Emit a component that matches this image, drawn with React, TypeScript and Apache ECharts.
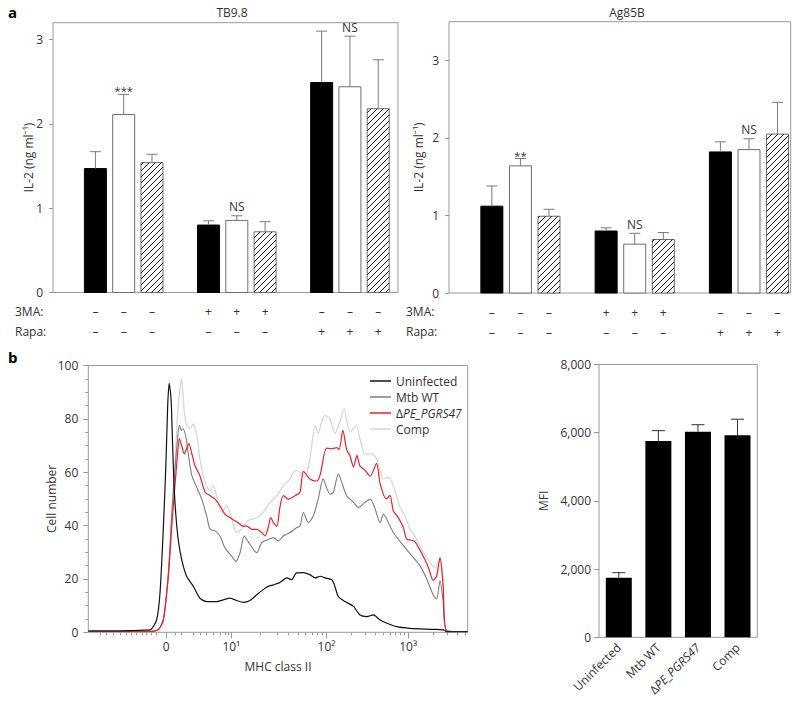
import { useEffect, useRef } from 'react';
import * as echarts from 'echarts';

const FONT = '"Open Sans", "Noto Sans", sans-serif';
const TEXT = '#333';
const AXIS = '#999';

// ---------- Panel a ----------
const slots = [2, 3, 4, 6, 7, 8, 10, 11, 12];
const treat3MA = ['–', '–', '–', '+', '+', '+', '–', '–', '–'];
const treatRapa = ['–', '–', '–', '–', '–', '–', '+', '+', '+'];
const tbMean = [1.47, 2.11, 1.54, 0.8, 0.855, 0.72, 2.49, 2.44, 2.18];
const tbSem = [0.2, 0.24, 0.1, 0.05, 0.055, 0.12, 0.61, 0.6, 0.58];
const tbSig = ['', '***', '', '', 'NS', '', '', 'NS', ''];
const agMean = [1.12, 1.64, 0.99, 0.8, 0.63, 0.69, 1.82, 1.85, 2.05];
const agSem = [0.26, 0.095, 0.09, 0.04, 0.14, 0.09, 0.13, 0.14, 0.41];
const agSig = ['', '**', '', '', 'NS', '', '', 'NS', ''];

// ---------- Panel b: histogram (x in display channel units 0-1000) ----------
const histMajorTicks = [205, 377, 628, 843];
const histMajorLabels = ['0', '10¹', '10²', '10³'];
const histMinorTicks = [31, 48, 66, 83, 101, 114, 127, 141, 154, 167, 180, 228, 246, 277, 295, 312, 330, 347, 360, 369,
  453, 497, 528, 553, 573, 589, 604, 616, 693, 731, 757, 778, 795, 810, 822, 833, 908, 946, 972, 993];

const uninfected: [number, number][] = [[0, 0.5], [57, 0.5], [110, 0.6], [149, 0.8], [163, 0.9], [180, 4.6], [189, 14.7], [198, 39.8], [205, 65], [209, 83.9], [213, 93.3], [218, 87.7], [222, 71.3], [226, 54.9], [231, 43.6], [237, 34.8], [246, 27.3], [259, 21], [277, 17.2], [294, 12.8], [312, 11.5], [338, 11.5], [373, 12.8], [391, 11.9], [409, 11.2], [426, 11.9], [444, 14.1], [461, 16], [474, 17.2], [488, 17.8], [505, 18.7], [523, 20.4], [536, 19.7], [549, 22.3], [567, 22.4], [584, 21.6], [598, 20.4], [611, 21], [624, 20.4], [642, 19.7], [650, 17.2], [659, 13.4], [677, 11.5], [699, 9.7], [716, 6.5], [734, 5.9], [751, 6.5], [769, 4.6], [787, 3.4], [813, 2.1], [848, 1.5], [909, 1.1], [936, 0.9], [945, 0.2], [1000, 0.2]];

const mtbWT: [number, number][] = [[0, 0.3], [163, 0.4], [185, 1], [198, 5], [211, 22], [220, 44], [229, 62], [235, 72], [240, 77.6], [246, 75.7], [250, 76.3], [258, 72.6], [264, 66.3], [273, 58.7], [286, 54.3], [299, 49.9], [312, 43.6], [321, 38.6], [334, 38], [347, 36.1], [360, 31.7], [378, 28.5], [389, 26.6], [400, 29.8], [411, 36.1], [426, 32.9], [444, 29.8], [457, 33.6], [474, 34.8], [488, 35.5], [501, 34.2], [514, 36.1], [532, 37.4], [549, 39.2], [558, 39.8], [567, 44.9], [580, 41.1], [593, 43.6], [606, 49.9], [619, 57.5], [628, 54.3], [637, 51.8], [646, 52.5], [659, 59.4], [668, 56.2], [681, 51.2], [699, 48.7], [712, 46.8], [729, 48.7], [743, 49.9], [756, 46.2], [769, 41.1], [778, 44.3], [791, 41.1], [804, 37.4], [822, 34], [839, 31], [857, 28], [874, 25], [892, 20], [909, 14], [918, 12.5], [927, 19.3], [935, 12], [945, 0.5], [1000, 0.3]];

const dPE: [number, number][] = [[0, 0.3], [163, 0.3], [185, 1.1], [198, 4.6], [211, 21], [220, 39.8], [229, 56.2], [235, 66.3], [240, 72.6], [246, 70], [253, 66.9], [259, 68.8], [265, 70.7], [273, 66.9], [281, 62.5], [294, 58.7], [308, 52.5], [321, 51.2], [334, 49.9], [347, 47.4], [360, 44.3], [373, 43], [387, 41.7], [395, 41.1], [407, 39.8], [418, 39.8], [431, 38.6], [444, 38.6], [457, 37.4], [466, 36.1], [474, 39.2], [481, 43], [488, 41.1], [497, 39.8], [505, 46.8], [514, 51.2], [527, 49.9], [545, 51.2], [558, 52.5], [567, 60.3], [584, 57.5], [602, 56.7], [611, 59], [628, 69], [642, 68.8], [655, 69.2], [661, 68.5], [671, 75.7], [681, 68.5], [690, 66], [699, 62], [708, 66.3], [716, 62.3], [729, 60.8], [743, 58.5], [760, 63.3], [769, 55.8], [785, 50], [795, 51.3], [804, 45.5], [817, 43], [830, 39.5], [839, 35], [851, 34.5], [861, 34], [879, 29.5], [896, 24.5], [909, 19.5], [918, 21], [927, 28], [935, 18], [945, 0.5], [1000, 0.3]];

const comp: [number, number][] = [[0, 0.3], [163, 0.3], [185, 1], [198, 5], [211, 23], [220, 45], [229, 65], [236, 83], [246, 95], [253, 82.6], [259, 77.6], [268, 76.3], [276, 78], [286, 73.8], [294, 65], [308, 56.2], [321, 53], [330, 54.9], [338, 51.2], [352, 44.9], [365, 47.4], [378, 42.4], [391, 37.4], [404, 38.6], [418, 41.7], [431, 42.4], [444, 43], [461, 44.9], [479, 48.7], [497, 51.2], [514, 54.9], [532, 57.5], [545, 60.6], [558, 60], [571, 58.1], [584, 65], [598, 77.6], [606, 74.5], [615, 78.9], [624, 81.3], [637, 80], [650, 74.5], [663, 78.9], [674, 83.6], [690, 75.1], [706, 77.6], [716, 72.6], [729, 66.9], [747, 66.9], [760, 65], [778, 57.5], [791, 58.1], [804, 54.9], [822, 46.8], [835, 43.6], [848, 38.6], [866, 34.8], [883, 29.8], [901, 26], [914, 24.2], [927, 27.9], [935, 20], [945, 0.5], [1000, 0.3]];

// ---------- Panel b: MFI ----------
const mfiCats = ['Uninfected', 'Mtb WT', 'ΔPE_PGRS47', 'Comp'];
const mfiMean = [1750, 5760, 6030, 5925];
const mfiSem = [145, 300, 205, 470];

const richName = {
  n: { fontSize: 12, color: TEXT, fontFamily: FONT },
  i: { fontSize: 12, color: TEXT, fontFamily: FONT, fontStyle: 'italic' as const },
};
const fmtName = (name: string) => (name.startsWith('Δ') ? `{n|Δ}{i|${name.slice(1)}}` : `{n|${name}}`);

function barRender(params: any, api: any) {
  const x = api.value(0);
  const y = api.value(1);
  const kind = api.value(3);
  const top = api.coord([x, y]);
  const base = api.coord([x, 0]);
  const w = 22;
  const x0 = top[0] - w / 2;
  const y0 = top[1];
  const h = base[1] - top[1];
  const children: any[] = [
    {
      type: 'rect',
      shape: { x: x0, y: y0, width: w, height: h },
      style: { fill: kind === 0 ? '#000' : '#fff', stroke: kind === 0 ? '#000' : '#6e6e6e', lineWidth: 1 },
    },
  ];
  if (kind === 2) {
    const s = 6;
    for (let c = Math.ceil((x0 + y0) / s) * s; c < x0 + w + y0 + h; c += s) {
      const lo = Math.max(x0, c - y0 - h);
      const hi = Math.min(x0 + w, c - y0);
      if (hi - lo > 0.5) {
        children.push({
          type: 'line',
          shape: { x1: lo, y1: c - lo, x2: hi, y2: c - hi },
          style: { stroke: '#000', lineWidth: 0.9 },
        });
      }
    }
  }
  return { type: 'group', children };
}

function errRender(capW: number, color: string, labels?: string[]) {
  return (params: any, api: any) => {
    const x = api.value(0);
    const m = api.value(1);
    const s = api.value(2);
    const p0 = api.coord([x, m]);
    const p1 = api.coord([x, m + s]);
    const children: any[] = [
      { type: 'line', shape: { x1: p0[0], y1: p0[1], x2: p1[0], y2: p1[1] }, style: { stroke: color, lineWidth: 1 } },
      { type: 'line', shape: { x1: p1[0] - capW / 2, y1: p1[1], x2: p1[0] + capW / 2, y2: p1[1] }, style: { stroke: color, lineWidth: 1 } },
    ];
    const lab = labels ? labels[params.dataIndex] : '';
    if (lab) {
      const star = lab.startsWith('*');
      children.push({
        type: 'text',
        x: p1[0],
        y: p1[1] + (star ? 2 : -3),
        style: {
          text: lab,
          align: 'center',
          verticalAlign: 'bottom',
          fontSize: star ? 11 : 12,
          fontFamily: FONT,
          fill: TEXT,
        },
      });
    }
    return { type: 'group', children };
  };
}

const slotLabel = (v: number) => {
  const i = slots.indexOf(Math.round(v));
  return i < 0 ? '' : `${treat3MA[i]}\n${treatRapa[i]}`;
};

function slotAxis(gridIndex: number, max: number) {
  return {
    type: 'value',
    gridIndex,
    position: 'bottom',
    min: 0.5,
    max,
    axisLine: { show: false, onZero: false },
    axisTick: { show: false },
    splitLine: { show: false },
    axisLabel: {
      customValues: slots,
      formatter: slotLabel,
      fontSize: 12,
      lineHeight: 20,
      color: TEXT,
      fontFamily: FONT,
      margin: 9,
    },
  };
}

export default function App() {
  const ref = useRef<HTMLDivElement>(null);
  useEffect(() => {
    if (!ref.current) return;
    const chart = echarts.init(ref.current, undefined, { renderer: 'svg' });

    const tbData = slots.map((s, i) => [s, tbMean[i], tbSem[i], i % 3]);
    const agData = slots.map((s, i) => [s, agMean[i], agSem[i], i % 3]);
    const mfiData = mfiCats.map((_, i) => [i, mfiMean[i], mfiSem[i]]);

    const yBase = {
      type: 'value',
      position: 'left',
      axisLine: { show: false, onZero: false },
      splitLine: { show: false },
      nameLocation: 'middle',
      nameMoveOverlap: false,
      nameTextStyle: { fontSize: 12, color: TEXT, fontFamily: FONT },
    };

    const option: any = {
      animation: false,
      textStyle: { fontFamily: FONT },
      grid: [
        { left: 53, top: 22.7, width: 345, height: 269.8, show: true, borderColor: AXIS, borderWidth: 1, outerBoundsMode: 'none' },
        { left: 449, top: 21.7, width: 341.7, height: 271.3, show: true, borderColor: AXIS, borderWidth: 1, outerBoundsMode: 'none' },
        { left: 88.3, top: 365.5, width: 379.4, height: 266.8, show: true, borderColor: AXIS, borderWidth: 1, outerBoundsMode: 'none' },
        { left: 599, top: 364.5, width: 158.3, height: 272.8, show: true, borderColor: AXIS, borderWidth: 1, outerBoundsMode: 'none' },
      ],
      xAxis: [
        slotAxis(0, 12.7),
        slotAxis(1, 12.46),
        {
          type: 'value',
          gridIndex: 2,
          position: 'bottom',
          min: 0,
          max: 1000,
          axisLine: { show: false, onZero: false },
          splitLine: { show: false },
          axisTick: { show: true, customValues: histMajorTicks, length: 6, lineStyle: { color: AXIS } },
          axisLabel: {
            customValues: histMajorTicks,
            formatter: (v: number) => {
              const i = histMajorTicks.indexOf(Math.round(v));
              return i < 0 ? '' : histMajorLabels[i];
            },
            fontSize: 12,
            color: TEXT,
            fontFamily: FONT,
            margin: 8,
          },
          name: 'MHC class II',
          nameLocation: 'middle',
          nameGap: 28,
          nameMoveOverlap: false,
          nameTextStyle: { fontSize: 12, color: TEXT, fontFamily: FONT },
        },
        {
          type: 'value',
          gridIndex: 2,
          position: 'bottom',
          offset: 0,
          min: 0,
          max: 1000,
          axisLine: { show: false, onZero: false },
          splitLine: { show: false },
          axisTick: { show: true, customValues: histMinorTicks, length: 3, lineStyle: { color: AXIS } },
          axisLabel: { show: false },
        },
        {
          type: 'category',
          gridIndex: 3,
          position: 'bottom',
          data: mfiCats,
          axisLine: { show: false, onZero: false },
          axisTick: { show: false },
          axisLabel: {
            rotate: 45,
            margin: 8,
            interval: 0,
            formatter: fmtName,
            rich: richName,
          },
        },
      ],
      yAxis: [
        {
          ...yBase,
          gridIndex: 0,
          min: 0,
          max: 3.2,
          interval: 1,
          axisTick: { show: true, length: 4, lineStyle: { color: AXIS } },
          axisLabel: { showMaxLabel: false, fontSize: 12, color: TEXT, fontFamily: FONT, margin: 10 },
          name: 'IL-2 (ng ml⁻¹)',
          nameGap: 19,
        },
        {
          ...yBase,
          gridIndex: 1,
          min: 0,
          max: 3.5,
          interval: 1,
          axisTick: { show: true, length: 4, lineStyle: { color: AXIS } },
          axisLabel: { showMaxLabel: false, fontSize: 12, color: TEXT, fontFamily: FONT, margin: 10 },
          name: 'IL-2 (ng ml⁻¹)',
          nameGap: 25,
        },
        {
          ...yBase,
          gridIndex: 2,
          min: 0,
          max: 100,
          interval: 20,
          axisTick: { show: true, length: 5, lineStyle: { color: AXIS } },
          minorTick: { show: true, splitNumber: 4, length: 3, lineStyle: { color: AXIS } },
          axisLabel: { fontSize: 12, color: TEXT, fontFamily: FONT, margin: 10 },
          name: 'Cell number',
          nameGap: 31,
        },
        {
          ...yBase,
          gridIndex: 3,
          min: 0,
          max: 8000,
          interval: 2000,
          axisTick: { show: true, length: 5, lineStyle: { color: AXIS } },
          axisLabel: {
            fontSize: 12,
            color: TEXT,
            fontFamily: FONT,
            margin: 8,
            formatter: (v: number) => v.toLocaleString('en-US'),
          },
          name: 'MFI',
          nameGap: 50,
        },
      ],
      legend: {
        data: ['Uninfected', 'Mtb WT', 'ΔPE_PGRS47', 'Comp'],
        orient: 'vertical',
        left: 365,
        top: 369,
        icon: 'rect',
        itemWidth: 21,
        itemHeight: 1.5,
        itemGap: 2,
        selectedMode: false,
        formatter: fmtName,
        textStyle: { fontSize: 12, color: TEXT, fontFamily: FONT, lineHeight: 14, rich: richName },
      },
      series: [
        { type: 'custom', xAxisIndex: 0, yAxisIndex: 0, data: tbData, renderItem: barRender, encode: { x: 0, y: 1 } },
        { type: 'custom', xAxisIndex: 0, yAxisIndex: 0, data: tbData, renderItem: errRender(11, '#7a7a7a', tbSig), encode: { x: 0, y: 1 }, z: 3 },
        { type: 'custom', xAxisIndex: 1, yAxisIndex: 1, data: agData, renderItem: barRender, encode: { x: 0, y: 1 } },
        { type: 'custom', xAxisIndex: 1, yAxisIndex: 1, data: agData, renderItem: errRender(11, '#7a7a7a', agSig), encode: { x: 0, y: 1 }, z: 3 },
        {
          name: 'Comp', type: 'line', xAxisIndex: 2, yAxisIndex: 2, data: comp, showSymbol: false, symbol: 'none', smooth: 0.25,
          color: '#d4d4d4', lineStyle: { color: '#d4d4d4', width: 1.2 },
        },
        {
          name: 'Mtb WT', type: 'line', xAxisIndex: 2, yAxisIndex: 2, data: mtbWT, showSymbol: false, symbol: 'none', smooth: 0.25,
          color: '#7d7d7d', lineStyle: { color: '#7d7d7d', width: 1.1 },
        },
        {
          name: 'ΔPE_PGRS47', type: 'line', xAxisIndex: 2, yAxisIndex: 2, data: dPE, showSymbol: false, symbol: 'none', smooth: 0.25,
          color: '#e8222a', lineStyle: { color: '#e8222a', width: 1.2 },
        },
        {
          name: 'Uninfected', type: 'line', xAxisIndex: 2, yAxisIndex: 2, data: uninfected, showSymbol: false, symbol: 'none', smooth: 0.25,
          color: '#111', lineStyle: { color: '#111', width: 1.2 },
        },
        {
          type: 'bar', xAxisIndex: 4, yAxisIndex: 3, data: mfiMean, barWidth: 26,
          itemStyle: { color: '#000' },
        },
        { type: 'custom', xAxisIndex: 4, yAxisIndex: 3, data: mfiData, renderItem: errRender(13, '#333'), encode: { x: 0, y: 1 }, z: 3 },
      ],
      graphic: [
        { type: 'text', x: 8, y: 12, style: { text: 'a', fontSize: 15, fontWeight: 'bold', fontFamily: FONT, fill: '#000', verticalAlign: 'middle' } },
        { type: 'text', x: 8, y: 357, style: { text: 'b', fontSize: 15, fontWeight: 'bold', fontFamily: FONT, fill: '#000', verticalAlign: 'middle' } },
        { type: 'text', x: 232, y: 12, style: { text: 'TB9.8', fontSize: 12, fontFamily: FONT, fill: TEXT, align: 'center', verticalAlign: 'middle' } },
        { type: 'text', x: 627, y: 12, style: { text: 'Ag85B', fontSize: 12, fontFamily: FONT, fill: TEXT, align: 'center', verticalAlign: 'middle' } },
        { type: 'text', x: 15, y: 311, style: { text: '3MA:', fontSize: 12, fontFamily: FONT, fill: TEXT, verticalAlign: 'middle' } },
        { type: 'text', x: 15, y: 331, style: { text: 'Rapa:', fontSize: 12, fontFamily: FONT, fill: TEXT, verticalAlign: 'middle' } },
        { type: 'text', x: 406, y: 311, style: { text: '3MA:', fontSize: 12, fontFamily: FONT, fill: TEXT, verticalAlign: 'middle' } },
        { type: 'text', x: 406, y: 331, style: { text: 'Rapa:', fontSize: 12, fontFamily: FONT, fill: TEXT, verticalAlign: 'middle' } },
      ],
    };
    chart.setOption(option);
    return () => chart.dispose();
  }, []);
  return (
    <div
      ref={ref}
      style={{ position: 'fixed', left: 0, top: 0, width: 800, height: 710, background: '#fff' }}
    />
  );
}
